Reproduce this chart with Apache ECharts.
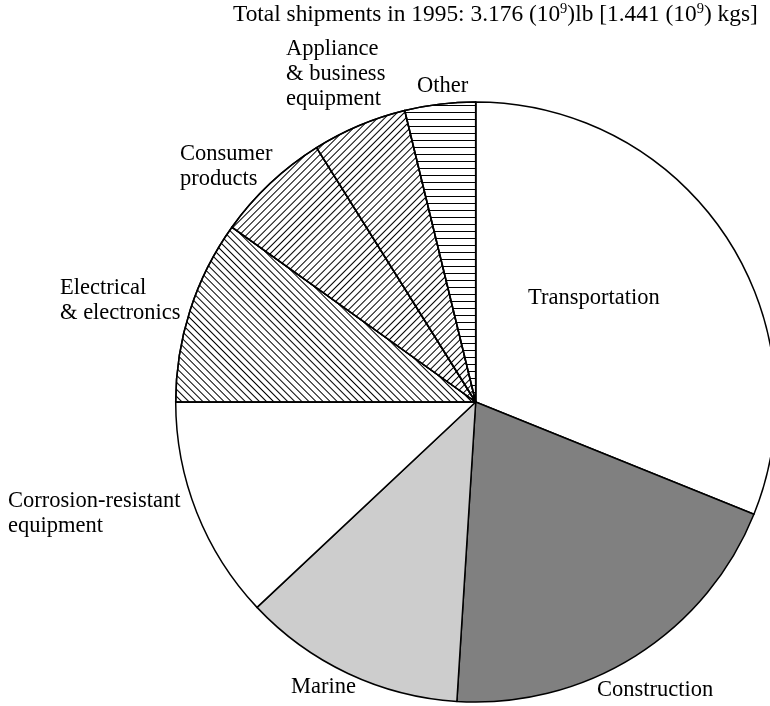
<!DOCTYPE html>
<html>
<head>
<meta charset="utf-8">
<script src="https://cdn.jsdelivr.net/npm/echarts@6/dist/echarts.min.js"></script>
<style>
html,body{margin:0;padding:0;background:#fff;}
#chart{width:770px;height:706px;}
</style>
</head>
<body>
<div id="chart"></div>
<script>
// Data
const categories = ['Transportation', 'Construction', 'Marine', 'Corrosion-resistant\nequipment', 'Electrical\n& electronics', 'Consumer\nproducts', 'Appliance\n& business\nequipment', 'Other'];
const shares = [31.1, 19.9, 12.0, 12.0, 9.9, 6.2, 5.1, 3.8];
const titleText = 'Total shipments in 1995: 3.176 (10{sup|9})lb [1.441 (10{sup|9}) kgs]';

// Styling (not data)
const labelX = [528, 597, 291, 8, 60, 180, 286, 417];
const labelY = [286, 678, 675, 489, 276, 142, 37, 74];
const FONT = 'Liberation Serif';

function hatch(rot, gap) {
  return { symbol: 'rect', color: '#000', backgroundColor: null, dashArrayX: [1, 0], dashArrayY: [1, gap], rotation: rot };
}
const fills = [
  { color: '#ffffff' },
  { color: '#808080' },
  { color: '#cdcdcd' },
  { color: '#ffffff' },
  { color: '#ffffff', decal: hatch(Math.PI / 4, 4) },
  { color: '#ffffff', decal: hatch(-Math.PI / 4, 4) },
  { color: '#ffffff', decal: hatch(-Math.PI / 4, 4) },
  { color: '#ffffff', decal: hatch(0, 6) }
];

const chart = echarts.init(document.getElementById('chart'), null, { renderer: 'canvas' });
chart.setOption({
  animation: false,
  backgroundColor: '#fff',
  title: {
    text: titleText,
    left: 233, top: 2, padding: 0,
    textStyle: {
      fontFamily: FONT, fontSize: 23.4, fontWeight: 'normal', color: '#000', lineHeight: 26,
      rich: { sup: { fontFamily: FONT, fontSize: 14.5, verticalAlign: 'top', lineHeight: 26, color: '#000' } }
    }
  },
  series: [{
    type: 'pie',
    center: [475.7, 402],
    radius: 300,
    startAngle: 90,
    clockwise: true,
    avoidLabelOverlap: false,
    silent: true,
    itemStyle: { borderColor: '#000', borderWidth: 1.5 },
    label: {
      show: true, position: 'outside', formatter: '{b}',
      fontFamily: FONT, fontSize: 22.5, lineHeight: 25, color: '#000', align: 'left'
    },
    labelLine: { show: false },
    labelLayout: function (p) {
      return { x: labelX[p.dataIndex], y: labelY[p.dataIndex], align: 'left', verticalAlign: 'top' };
    },
    data: categories.map((c, i) => ({ name: c, value: shares[i], itemStyle: fills[i] }))
  }]
});
</script>
</body>
</html>
